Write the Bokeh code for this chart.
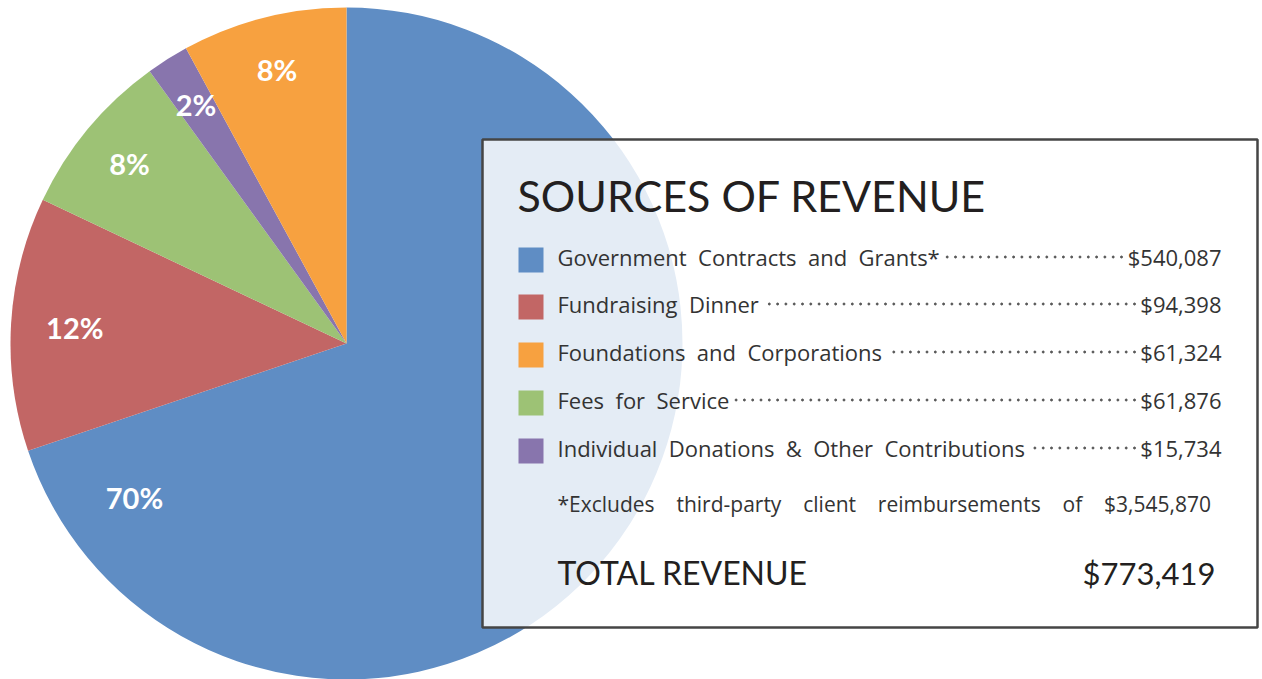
import numpy as np
from bokeh.plotting import figure
from bokeh.models import Range1d, ColumnDataSource
from bokeh.core.properties import value
from bokeh.embed import file_html
from bokeh.resources import INLINE

# ---------------- data ----------------
categories = [
    "Government Contracts and Grants*",
    "Fundraising Dinner",
    "Foundations and Corporations",
    "Fees for Service",
    "Individual Donations & Other Contributions",
]
amounts = [540087, 94398, 61324, 61876, 15734]
amount_labels = ["$540,087", "$94,398", "$61,324", "$61,876", "$15,734"]
colors = ["#5f8dc4", "#c26665", "#f7a140", "#9dc275", "#8875ad"]
pie_order = [0, 1, 3, 4, 2]          # clockwise from 12 o'clock
title_text = "SOURCES OF REVENUE"
footnote_text = "*Excludes third-party client reimbursements of $3,545,870"
total_label = "TOTAL REVENUE"
total_value = "$773,419"

# ---------------- layout helpers ----------------
W, H = 1262, 679
def sy(s):             # screen y (px from top) -> data y
    return H - s

def spaced(t, n=1):    # widen word gaps like the justified original
    return t.replace(" ", " " + "\u00a0" * n)

TITLE_FONT = value("Lato")
BODY_FONT = value("Open Sans")
cx, cy, R = 346, sy(343), 336

p = figure(width=W, height=H, output_backend="svg", toolbar_location=None,
           x_range=Range1d(0, W), y_range=Range1d(0, H),
           x_axis_type=None, y_axis_type=None, min_border=0)
p.grid.visible = False
p.outline_line_color = None
p.background_fill_color = "white"
p.border_fill_color = "white"

# ---------------- pie ----------------
total = float(sum(amounts))
vals = np.array([amounts[i] for i in pie_order], dtype=float)
fr = vals / total
cum = np.concatenate([[0], np.cumsum(fr)])
theta1 = cum[:-1] * 2 * np.pi      # clockwise from top
theta2 = cum[1:] * 2 * np.pi
src = ColumnDataSource(dict(
    start=np.pi / 2 - theta2, end=np.pi / 2 - theta1,
    color=[colors[i] for i in pie_order],
))
p.wedge(x=cx, y=cy, radius=R, start_angle="start", end_angle="end",
        fill_color="color", line_color=None, source=src)

# percentage labels
pct = [f"{round(amounts[i] / total * 100)}%" for i in pie_order]
mid = (theta1 + theta2) / 2
lab_theta = mid.copy()
lab_r = np.full(len(mid), 0.84 * R)
lab_theta[0] = np.deg2rad(234)      # blue label placed on visible side
lab_r[0] = 0.78 * R
lab_r[1] = 0.81 * R
lx = cx + lab_r * np.sin(lab_theta)
ly = cy + lab_r * np.cos(lab_theta)
p.text(x=lx, y=ly, text=pct, text_color="white", text_font=TITLE_FONT,
       text_font_style="bold", text_font_size="29px",
       text_align="center", text_baseline="middle")

# ---------------- legend panel ----------------
p.quad(left=482, right=1257, top=sy(139), bottom=sy(627),
       fill_color="white", fill_alpha=0.83, line_color="#454545", line_width=2.5)

p.text(x=[517], y=[sy(195)], text=[title_text], text_font=TITLE_FONT,
       text_font_size="43px", text_color="#231f20", text_baseline="middle")

row_cy = np.array([259.5, 306.5, 354.5, 402.5, 450.5])
p.rect(x=530.5, y=sy(row_cy), width=25, height=25, fill_color=colors,
       line_color=None)
p.text(x=557, y=sy(row_cy - 3), text=[spaced(c) for c in categories],
       text_font=BODY_FONT, text_font_size="22px", text_color="#333333",
       text_baseline="middle")
p.text(x=1221, y=sy(row_cy - 3), text=amount_labels, text_font=BODY_FONT,
       text_font_size="22px", text_color="#333333", text_baseline="middle",
       text_align="right")

# dot leaders
lead_start = [945, 764, 888, 734, 1031]
lead_end = [1121, 1134, 1134, 1134, 1134]
dx, dy = [], []
for s, e, c in zip(lead_start, lead_end, row_cy):
    xs = np.arange(e, s, -8.3)
    dx.extend(xs)
    dy.extend([sy(c - 3)] * len(xs))
p.scatter(x=dx, y=dy, size=2, color="#555555", marker="circle")

p.text(x=[557], y=[sy(503)], text=[spaced(footnote_text, 3)],
       text_font=BODY_FONT, text_font_size="21px", text_color="#333333",
       text_baseline="middle")

p.text(x=[557], y=[sy(572)], text=[total_label], text_font=TITLE_FONT,
       text_font_size="32px", text_color="#231f20", text_baseline="middle")
p.text(x=[1215], y=[sy(572)], text=[total_value], text_font=TITLE_FONT,
       text_font_size="31px", text_color="#231f20", text_baseline="middle",
       text_align="right")

open("out.html", "w").write(file_html(p, INLINE))
